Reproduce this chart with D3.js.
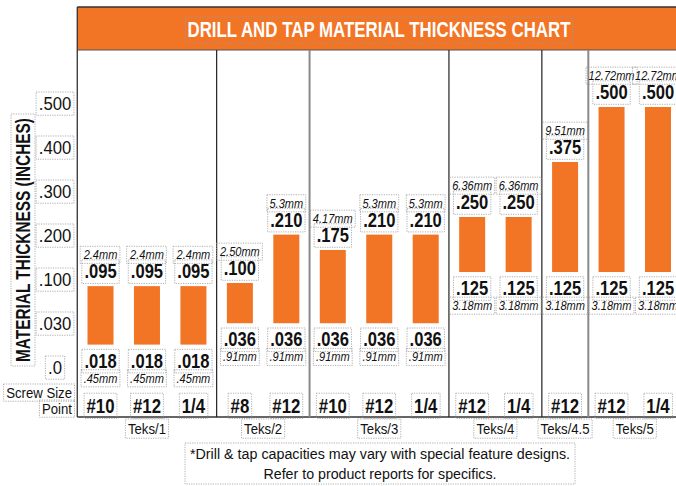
<!DOCTYPE html>
<html>
<head>
<meta charset="utf-8">
<script src="https://cdn.jsdelivr.net/npm/d3@7"></script>
<style>
  body { margin: 0; background: #fff; }
  svg { display: block; font-family: "Liberation Sans", Arial, sans-serif; }
</style>
</head>
<body>
<svg width="676" height="486"></svg>
<script>
// values
var points   = ["#10", "#12", "1/4", "#8", "#12", "#10", "#12", "1/4", "#12", "1/4", "#12", "#12", "1/4"];
var groupOf  = ["Teks/1", "Teks/1", "Teks/1", "Teks/2", "Teks/2", "Teks/3", "Teks/3", "Teks/3",
                "Teks/4", "Teks/4", "Teks/4.5", "Teks/5", "Teks/5"];
var groups   = ["Teks/1", "Teks/2", "Teks/3", "Teks/4", "Teks/4.5", "Teks/5"];
var minThick = [.018, .018, .018, .036, .036, .036, .036, .036, .125, .125, .125, .125, .125];
var maxThick = [.095, .095, .095, .100, .210, .175, .210, .210, .250, .250, .375, .500, .500];
var minMM    = [".45mm", ".45mm", ".45mm", ".91mm", ".91mm", ".91mm", ".91mm", ".91mm",
                "3.18mm", "3.18mm", "3.18mm", "3.18mm", "3.18mm"];
var maxMM    = ["2.4mm", "2.4mm", "2.4mm", "2.50mm", "5.3mm", "4.17mm", "5.3mm", "5.3mm",
                "6.36mm", "6.36mm", "9.51mm", "12.72mm", "12.72mm"];
var tickValues = [0, .030, .100, .200, .300, .400, .500];
var tickLabels = [".0", ".030", ".100", ".200", ".300", ".400", ".500"];

var svg = d3.select("svg"),
    width = +svg.attr("width"),
    height = +svg.attr("height");

var orange = "#F27425";
var fmt = function(v) { return d3.format(".3f")(v).slice(1); };

// the axis is not linear: ticks are evenly spaced
var y = d3.scaleLinear()
  .domain(tickValues)
  .range(tickValues.map(function(d, i) { return 371 - i * 44; }));

var x = d3.scalePoint()
  .domain(d3.range(points.length))
  .range([100.5, 658]);

var step = x.step(),
    barW = 26,
    frameLeft = x(0) - step / 2,
    bandTop = 7, bandBottom = 50, frameBottom = 417;

// dotted text boxes, like the text frames of the original
function label(sel, px, py, txt, o) {
  var g = sel.append("g")
    .attr("transform", "translate(" + px + "," + py + ")" + (o.rot ? " rotate(" + o.rot + ")" : "") +
          " scale(" + (o.sx || 0.85) + ",1)");
  var t = g.append("text")
    .attr("text-anchor", o.anchor || "middle")
    .style("font-size", o.size + "px")
    .style("font-weight", o.weight || "normal")
    .style("font-style", o.italic ? "italic" : "normal")
    .attr("fill", o.fill || "#111")
    .text(txt);
  if (o.len) t.attr("textLength", o.len).attr("lengthAdjust", "spacingAndGlyphs");
  if (o.box !== false) {
    var b = t.node().getBBox(), p = o.pad || 3, v = o.vpad == null ? 1 : o.vpad;
    g.insert("rect", "text")
      .attr("x", b.x - p).attr("y", b.y - v)
      .attr("width", b.width + 2 * p).attr("height", b.height + 2 * v)
      .attr("fill", "none")
      .attr("stroke", "#9c9c9c")
      .attr("stroke-width", 0.8)
      .attr("stroke-dasharray", "1.2,1.2")
      .attr("vector-effect", "non-scaling-stroke");
  }
  return g;
}

// title band
svg.append("rect")
  .attr("x", frameLeft).attr("y", bandTop)
  .attr("width", width - frameLeft).attr("height", bandBottom - bandTop)
  .attr("fill", orange);
svg.append("line")
  .attr("x1", frameLeft).attr("x2", width).attr("y1", bandTop).attr("y2", bandTop)
  .attr("stroke", "#333").attr("stroke-width", 1.5);
svg.append("line")
  .attr("x1", frameLeft).attr("x2", width).attr("y1", bandBottom).attr("y2", bandBottom)
  .attr("stroke", "#555").attr("stroke-width", 1);
label(svg, 379, 37, "DRILL AND TAP MATERIAL THICKNESS CHART",
  { size: 21.5, weight: "bold", fill: "#fff", sx: 1, len: 383, pad: 2 });

// frame + group dividers
svg.append("line")
  .attr("x1", frameLeft).attr("x2", frameLeft).attr("y1", bandTop).attr("y2", frameBottom)
  .attr("stroke", "#333").attr("stroke-width", 1.3);
svg.append("line")
  .attr("x1", frameLeft).attr("x2", width).attr("y1", frameBottom).attr("y2", frameBottom)
  .attr("stroke", "#333").attr("stroke-width", 1.3);

var dividers = [];
for (var i = 1; i < points.length; i++) {
  if (groupOf[i] !== groupOf[i - 1]) dividers.push({ x: (x(i) + x(i - 1)) / 2, g: groupOf[i] });
}
svg.append("g").selectAll("line")
  .data(dividers)
  .enter().append("line")
  .attr("x1", function(d) { return d.x; })
  .attr("x2", function(d) { return d.x; })
  .attr("y1", bandBottom).attr("y2", frameBottom)
  .attr("stroke", function(d) { return (d.g === "Teks/3" || d.g === "Teks/5") ? "#8a8a8a" : "#222"; })
  .attr("stroke-width", function(d) { return (d.g === "Teks/3" || d.g === "Teks/5") ? 2 : 1.2; });

// y axis labels
tickValues.forEach(function(v, i) {
  label(svg, 55, y(v) + 3, tickLabels[i], { size: 19, sx: 0.88 });
});
label(svg, 30, 240, "MATERIAL THICKNESS (INCHES)",
  { size: 20, weight: "bold", sx: 1, rot: -90, len: 244, pad: 4 });
label(svg, 72, 398, "Screw Size", { size: 15.5, anchor: "end", vpad: 0 });
label(svg, 72, 414, "Point", { size: 15.5, anchor: "end", vpad: 0 });

// bars
svg.append("g").selectAll("rect")
  .data(d3.range(points.length))
  .enter().append("rect")
  .attr("x", function(i) { return x(i) - barW / 2; })
  .attr("y", function(i) { return y(maxThick[i]); })
  .attr("width", barW)
  .attr("height", function(i) { return y(minThick[i]) - y(maxThick[i]); })
  .attr("fill", orange);

var lab = svg.append("g");
d3.range(points.length).forEach(function(i) {
  var cx = x(i), top = y(maxThick[i]), bot = y(minThick[i]);
  label(lab, cx, top - 27, maxMM[i], { size: 13, italic: true });
  label(lab, cx, top - 8, fmt(maxThick[i]), { size: 19.5, weight: "bold" });
  label(lab, cx, bot + 23, fmt(minThick[i]), { size: 19.5, weight: "bold" });
  label(lab, cx, bot + 38, minMM[i], { size: 13, italic: true });
  label(lab, cx, 413, points[i], { size: 21, weight: "bold", sx: 0.8 });
});

// group names under the frame
groups.forEach(function(g) {
  var idx = d3.range(points.length).filter(function(i) { return groupOf[i] === g; });
  label(svg, d3.mean(idx, function(i) { return x(i); }), 434, g, { size: 15.5 });
});

// footnote
var foot = svg.append("g");
label(foot, 380, 459, "*Drill & tap capacities may vary with special feature designs.",
  { size: 15.5, sx: 1, len: 380, box: false });
label(foot, 380, 479, "Refer to product reports for specifics.",
  { size: 15.5, sx: 1, len: 233, box: false });
var fb = foot.node().getBBox();
foot.append("rect")
  .attr("x", fb.x - 5).attr("y", fb.y - 2)
  .attr("width", fb.width + 10).attr("height", fb.height + 4)
  .attr("fill", "none").attr("stroke", "#9c9c9c")
  .attr("stroke-width", 0.8).attr("stroke-dasharray", "1.2,1.2");
</script>
</body>
</html>
